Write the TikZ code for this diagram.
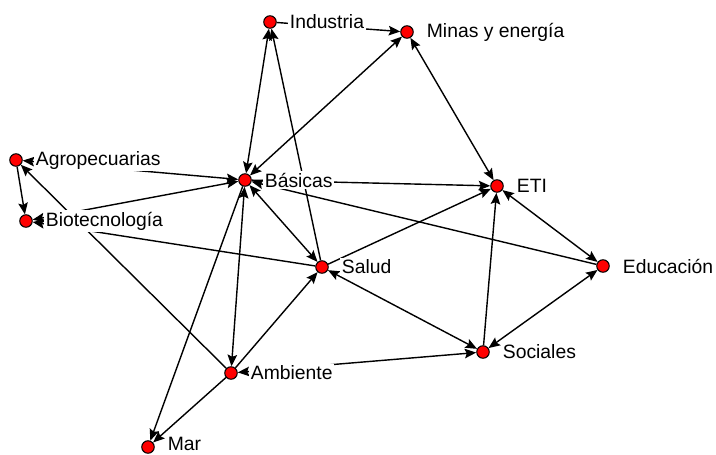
\documentclass[tikz,border=0pt]{standalone}
\usepackage{fontspec}
\setmainfont{Liberation Sans}
\usepackage{tikz}
\usetikzlibrary{arrows.meta,positioning}
\definecolor{dotred}{RGB}{255,0,0}

\begin{document}
\begin{tikzpicture}[x=0.02cm, y=-0.02cm,
  every node/.style={font=\fontsize{11}{13}\selectfont},
  actor/.style={circle, draw, fill=dotred, line width=0.6pt, minimum size=0.25cm, inner sep=0pt},
  tag/.style={fill=white, inner sep=1pt, right=0.22cm of #1},
  link/.style={line width=0.8pt},
  >={Stealth[length=2.3mm, width=1.9mm, inset=0.4mm]}]
\useasboundingbox (0,0) rectangle (716,454);
\node[actor] (ind) at (270,22)  {};
\node[actor] (min) at (407,32)  {};
\node[actor] (agr) at (16,160)  {};
\node[actor] (bas) at (245,180) {};
\node[actor] (eti) at (497,186) {};
\node[actor] (bio) at (26,221)  {};
\node[actor] (sal) at (322,267) {};
\node[actor] (edu) at (603,266) {};
\node[actor] (soc) at (483,352) {};
\node[actor] (amb) at (231,373) {};
\node[actor] (mar) at (148,447) {};
\draw[link,->]  (ind) -- (min);
\draw[link,<->] (bas) -- (ind);
\draw[link,->]  (sal) -- (ind);
\draw[link,<->] (bas) -- (min);
\draw[link,<->] (min) -- (eti);
\draw[link,->]  (bas) -- (eti);
\draw[link,->]  (edu) -- (bas);
\draw[link,<->] (eti) -- (edu);
\draw[link,->]  (sal) -- (eti);
\draw[link,->]  (soc) -- (eti);
\draw[link,<->] (edu) -- (soc);
\draw[link,<->] (sal) -- (soc);
\draw[link,<->] (amb) -- (soc);
\draw[link,->]  (amb) -- (sal);
\draw[link,<->] (bas) -- (sal);
\draw[link,<->] (bas) -- (amb);
\draw[link,->]  (amb) -- (agr);
\draw[link,->]  (agr) -- (bio);
\draw[link,<->] (bas) -- (agr);
\draw[link,<->] (bas) -- (bio);
\draw[link,->]  (sal) -- (bio);
\draw[link,->]  (bas) -- (mar);
\draw[link,->]  (amb) -- (mar);
\node[tag=ind] (indl) {Industria};
\node[tag=min] (minl) {Minas y energía};
\node[tag=agr] (agrl) {Agropecuarias};
\node[tag=bas] (basl) {Básicas};
\node[tag=eti] (etil) {ETI};
\node[tag=bio] (biol) {Biotecnología};
\node[tag=sal] (sall) {Salud};
\node[tag=edu] (edul) {Educación};
\node[tag=soc] (socl) {Sociales};
\node[tag=amb] (ambl) {Ambiente};
\node[tag=mar, yshift=2pt] (marl) {Mar};
\end{tikzpicture}
\end{document}
